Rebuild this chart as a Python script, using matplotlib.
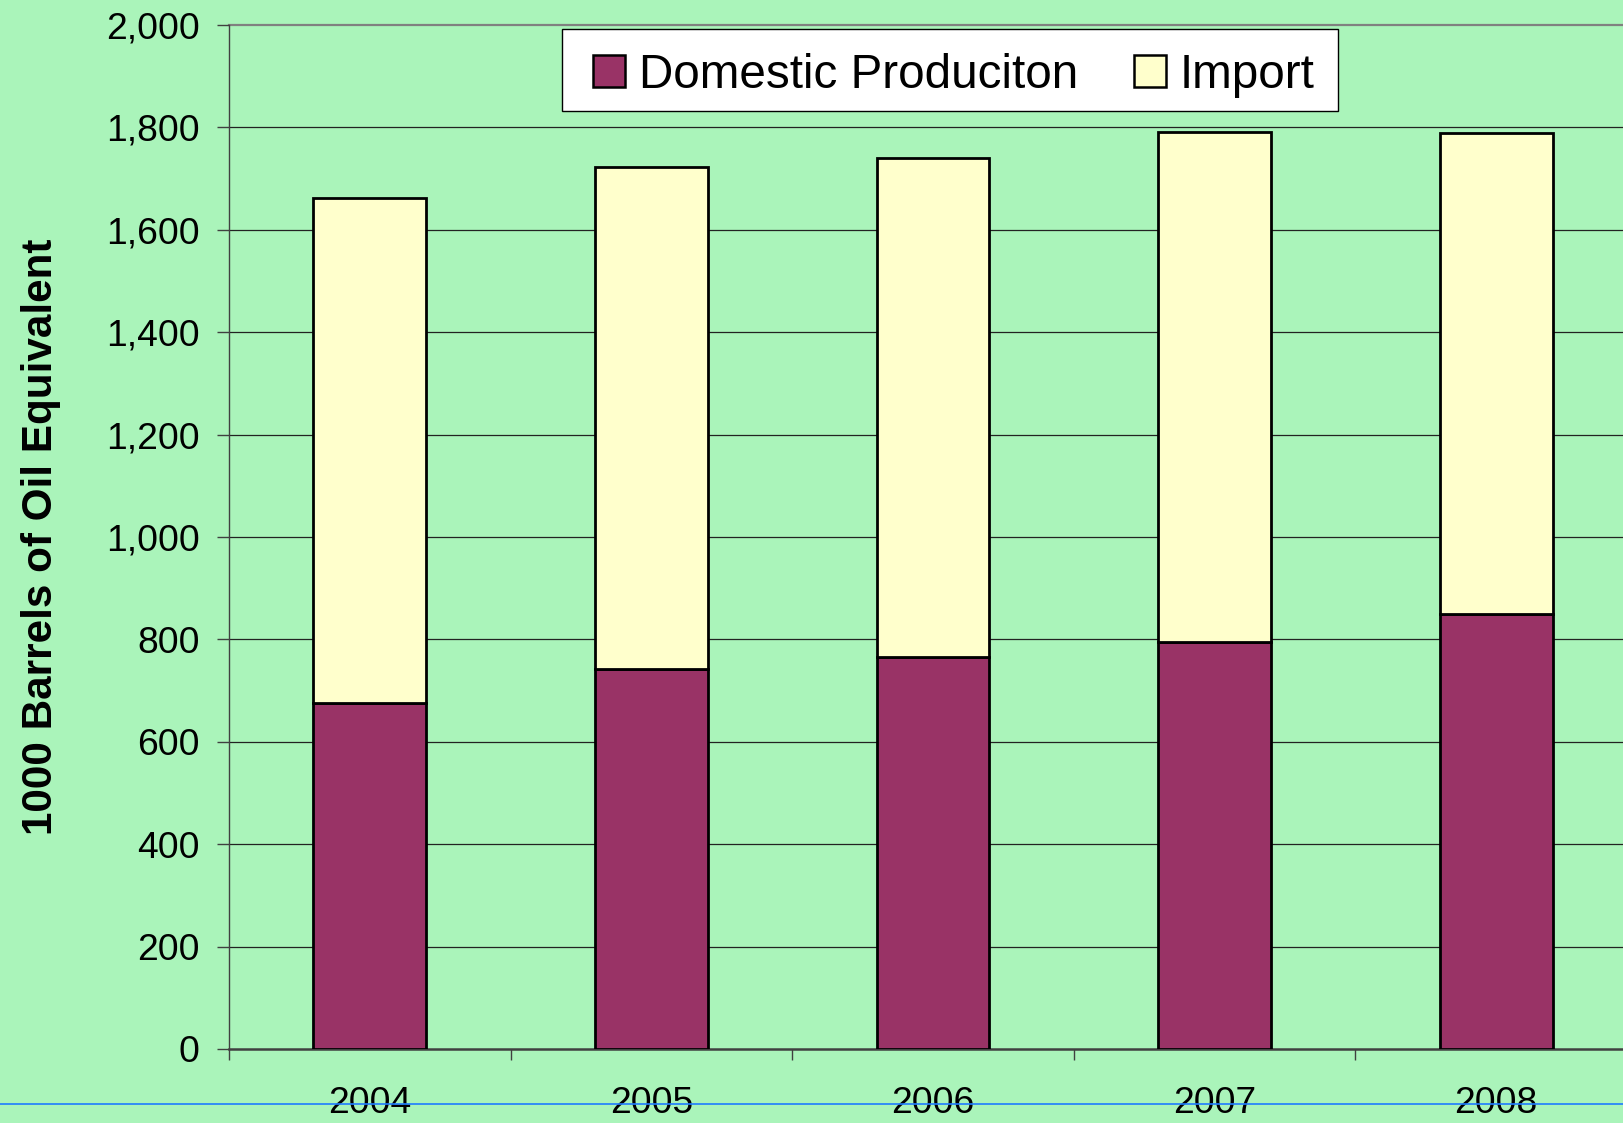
import matplotlib
matplotlib.use("Agg")
import matplotlib.pyplot as plt
from matplotlib.lines import Line2D
from matplotlib.patches import Patch, Rectangle

years = ["2004", "2005", "2006", "2007", "2008"]
domestic = [676, 742, 766, 794, 849]
total = [1663, 1723, 1741, 1791, 1790]
imports = [t - d for t, d in zip(total, domestic)]
yticks = [0, 200, 400, 600, 800, 1000, 1200, 1400, 1600, 1800, 2000]
ytick_labels = ["0", "200", "400", "600", "800", "1,000", "1,200", "1,400", "1,600", "1,800", "2,000"]

BG = "#AAF4BA"
PURPLE = "#993366"
CREAM = "#FFFFCC"

plt.rcParams['font.family'] = ['Liberation Sans', 'DejaVu Sans']

fig = plt.figure(figsize=(16.24, 11.23), dpi=100, facecolor=BG)
ax = fig.add_axes([229/1624, 74/1123, 1408/1624, 1024/1123])
ax.set_facecolor(BG)

x = list(range(len(years)))
ax.bar(x, domestic, width=0.4, color=PURPLE, edgecolor="black", linewidth=2.0, zorder=3)
ax.bar(x, imports, bottom=domestic, width=0.4, color=CREAM, edgecolor="black", linewidth=2.0, zorder=3)

ax.set_xlim(-0.5, 4.5)
ax.set_ylim(0, 2000)
ax.set_yticks(yticks)
ax.set_yticklabels(ytick_labels)
for yv in yticks[1:-1]:
    ax.axhline(yv, color="#222222", linewidth=0.9, zorder=1)
ax.axhline(2000, color="#808080", linewidth=1.6, zorder=1, clip_on=False)

ax.set_xticks(x)
ax.set_xticklabels(years)
ax.set_xticks([-0.5, 0.5, 1.5, 2.5, 3.5], minor=True)
ax.tick_params(axis="x", which="major", length=0, pad=26.5, labelsize=26.8)
ax.tick_params(axis="x", which="minor", length=8, width=1, color="#404040", direction="out")
ax.tick_params(axis="y", which="major", length=8.6, width=1, color="#404040", pad=12.5, labelsize=26.8, direction="out")

for side in ["top", "right"]:
    ax.spines[side].set_visible(False)
ax.spines["left"].set_color("#404040")
ax.spines["left"].set_linewidth(1.0)
ax.spines["bottom"].set_color("#404040")
ax.spines["bottom"].set_linewidth(1.8)

ax.set_ylabel("1000 Barrels of Oil Equivalent", fontsize=30.4, fontweight="bold")
ax.yaxis.set_label_coords(-(229 - 61) / 1408, 0.5)

# legend frame
ax.add_patch(Rectangle(((562 - 229) / 1408, (1049 - 111) / 1024),
                       (1338 - 562) / 1408, (111 - 29) / 1024,
                       transform=ax.transAxes, facecolor="white", edgecolor="black",
                       linewidth=1.0, zorder=5, clip_on=False))

handles = [Patch(facecolor=PURPLE, edgecolor="black", linewidth=1.8),
           Patch(facecolor=CREAM, edgecolor="black", linewidth=1.8)]
leg = ax.legend(handles, ["Domestic Produciton", "Import"], ncol=2, loc="center left",
                bbox_to_anchor=((593 - 229) / 1408, (1049 - 75.5) / 1024),
                fontsize=34.3, frameon=False,
                handlelength=0.67, handleheight=0.67, handletextpad=0.29,
                columnspacing=1.18, borderpad=0, borderaxespad=0)
leg.set_zorder(6)

fig.add_artist(Line2D([0, 1], [1 - 1104.3 / 1123] * 2, color="#1E7BFF", linewidth=1.2, transform=fig.transFigure))

fig.savefig("out.png", dpi=100, facecolor=BG)
